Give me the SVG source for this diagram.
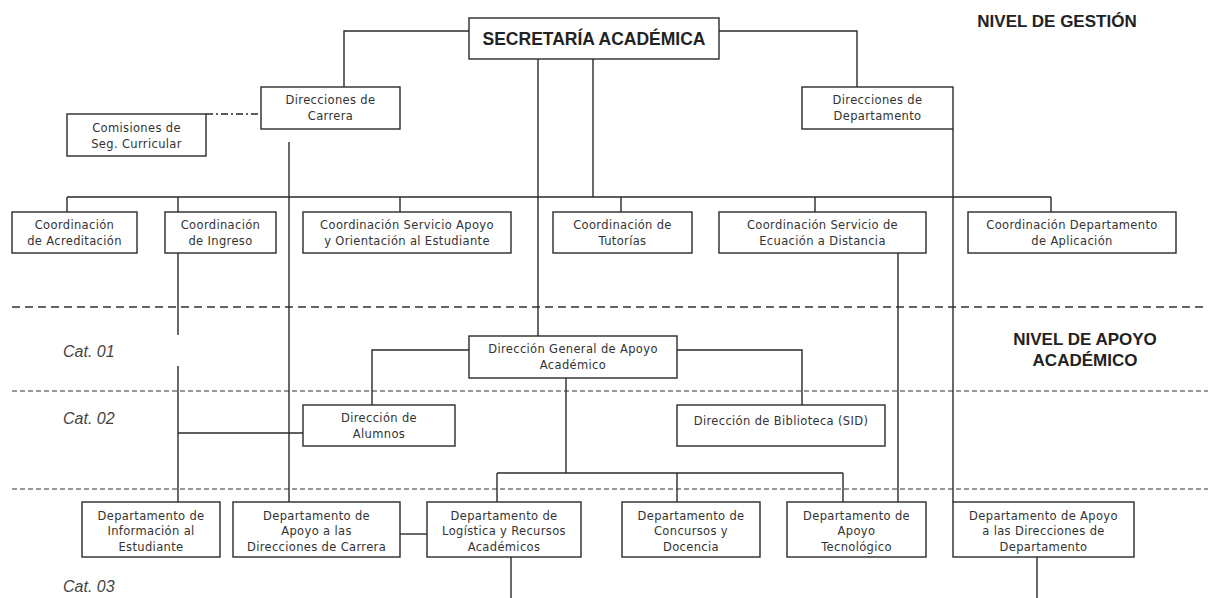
<svg xmlns="http://www.w3.org/2000/svg" width="1208" height="598" viewBox="0 0 1208 598">
<style>
.box{fill:#fff;stroke:#2a2a2a;stroke-width:1.4}
.t{font-family:"DejaVu Sans",sans-serif;font-size:11.5px;letter-spacing:0.35px;fill:#333;text-anchor:middle}
.ln{fill:none;stroke:#2a2a2a;stroke-width:1.4}
.dash1{fill:none;stroke:#333;stroke-width:1.3;stroke-dasharray:8 5}
.dash2{fill:none;stroke:#333;stroke-width:1.2;stroke-dasharray:5 3}
.cat{font-family:"Liberation Sans",sans-serif;font-style:italic;font-size:16px;fill:#444}
.lvl{font-family:"Liberation Sans",sans-serif;font-weight:bold;font-size:17px;fill:#222;text-anchor:middle}
</style>
<rect width="1208" height="598" fill="#fff"/>
<g id="separators">
<line class="dash1" x1="12" y1="307" x2="1208" y2="307"/>
<line class="dash2" x1="12" y1="391" x2="1208" y2="391"/>
<line class="dash2" x1="12" y1="489" x2="1208" y2="489"/>
</g>
<g id="labels">
<text class="lvl" x="1057" y="27">NIVEL DE GESTIÓN</text>
<text class="lvl" x="1085" y="345">NIVEL DE APOYO</text>
<text class="lvl" x="1085" y="366">ACADÉMICO</text>
<text class="cat" x="63" y="357">Cat. 01</text>
<text class="cat" x="63" y="424">Cat. 02</text>
<text class="cat" x="63" y="592">Cat. 03</text>
</g>
<g id="connectors">
<polyline class="ln" points="344,87 344,31 469,31"/>
<polyline class="ln" points="719,31 857,31 857,87"/>
<line class="ln" x1="206" y1="114" x2="261" y2="114" stroke-dasharray="7 3 2 3"/>
<line class="ln" x1="538" y1="59" x2="538" y2="336"/>
<line class="ln" x1="593" y1="59" x2="593" y2="197"/>
<line class="ln" x1="67" y1="197" x2="1051" y2="197"/>
<line class="ln" x1="67" y1="197" x2="67" y2="212"/>
<line class="ln" x1="178" y1="197" x2="178" y2="212"/>
<line class="ln" x1="400" y1="197" x2="400" y2="212"/>
<line class="ln" x1="621" y1="197" x2="621" y2="212"/>
<line class="ln" x1="815" y1="197" x2="815" y2="212"/>
<line class="ln" x1="1051" y1="197" x2="1051" y2="212"/>
<line class="ln" x1="289" y1="142" x2="289" y2="521"/>
<line class="ln" x1="178" y1="253" x2="178" y2="335"/>
<line class="ln" x1="178" y1="366" x2="178" y2="502"/>
<line class="ln" x1="178" y1="433" x2="303" y2="433"/>
<line class="ln" x1="953" y1="129" x2="953" y2="502"/>
<line class="ln" x1="898" y1="253" x2="898" y2="502"/>
<polyline class="ln" points="469,350 372,350 372,405"/>
<polyline class="ln" points="677,350 802,350 802,405"/>
<line class="ln" x1="566" y1="378" x2="566" y2="473"/>
<line class="ln" x1="497" y1="473" x2="843" y2="473"/>
<line class="ln" x1="497" y1="473" x2="497" y2="502"/>
<line class="ln" x1="677" y1="473" x2="677" y2="502"/>
<line class="ln" x1="843" y1="473" x2="843" y2="502"/>
<line class="ln" x1="400" y1="534" x2="427" y2="534"/>
<line class="ln" x1="511" y1="557" x2="511" y2="598"/>
<line class="ln" x1="1037" y1="557" x2="1037" y2="598"/>
</g>
<g id="secretaria">
<rect class="box" x="469" y="18" width="250" height="41"/>
<text x="594" y="45" font-family="Liberation Sans, sans-serif" font-weight="bold" font-size="18" fill="#222" text-anchor="middle" textLength="223" lengthAdjust="spacingAndGlyphs">SECRETARÍA ACADÉMICA</text>
</g>
<g id="dir-carrera">
<rect class="box" x="261" y="87" width="139" height="42"/>
<text class="t" x="330.5" y="104">Direcciones de</text>
<text class="t" x="330.5" y="120">Carrera</text>
</g>
<g id="dir-depto">
<rect class="box" x="802" y="87" width="151" height="42"/>
<text class="t" x="877.5" y="104">Direcciones de</text>
<text class="t" x="877.5" y="120">Departamento</text>
</g>
<g id="comisiones">
<rect class="box" x="67" y="114" width="139" height="42"/>
<text class="t" x="136.5" y="132">Comisiones de</text>
<text class="t" x="136.5" y="148">Seg. Curricular</text>
</g>
<g id="coord-acred">
<rect class="box" x="12" y="212" width="125" height="41"/>
<text class="t" x="74.5" y="229">Coordinación</text>
<text class="t" x="74.5" y="245">de Acreditación</text>
</g>
<g id="coord-ingreso">
<rect class="box" x="165" y="212" width="111" height="41"/>
<text class="t" x="220.5" y="229">Coordinación</text>
<text class="t" x="220.5" y="245">de Ingreso</text>
</g>
<g id="coord-apoyo">
<rect class="box" x="303" y="212" width="208" height="41"/>
<text class="t" x="407" y="229">Coordinación Servicio Apoyo</text>
<text class="t" x="407" y="245">y Orientación al Estudiante</text>
</g>
<g id="coord-tutorias">
<rect class="box" x="553" y="212" width="139" height="41"/>
<text class="t" x="622.5" y="229">Coordinación de</text>
<text class="t" x="622.5" y="245">Tutorías</text>
</g>
<g id="coord-distancia">
<rect class="box" x="719" y="212" width="207" height="41"/>
<text class="t" x="822.5" y="229">Coordinación Servicio de</text>
<text class="t" x="822.5" y="245">Ecuación a Distancia</text>
</g>
<g id="coord-aplicacion">
<rect class="box" x="968" y="212" width="208" height="41"/>
<text class="t" x="1072" y="229">Coordinación Departamento</text>
<text class="t" x="1072" y="245">de Aplicación</text>
</g>
<g id="dir-general">
<rect class="box" x="469" y="336" width="208" height="42"/>
<text class="t" x="573" y="353">Dirección General de Apoyo</text>
<text class="t" x="573" y="369">Académico</text>
</g>
<g id="dir-alumnos">
<rect class="box" x="303" y="405" width="152" height="41"/>
<text class="t" x="379" y="422">Dirección de</text>
<text class="t" x="379" y="438">Alumnos</text>
</g>
<g id="dir-biblioteca">
<rect class="box" x="677" y="405" width="208" height="41"/>
<text class="t" x="781" y="425">Dirección de Biblioteca (SID)</text>
</g>
<g id="depto-informacion">
<rect class="box" x="82" y="502" width="138" height="55"/>
<text class="t" x="151" y="520">Departamento de</text>
<text class="t" x="151" y="535">Información al</text>
<text class="t" x="151" y="551">Estudiante</text>
</g>
<g id="depto-apoyo-carrera">
<rect class="box" x="233" y="502" width="167" height="55"/>
<text class="t" x="316.5" y="520">Departamento de</text>
<text class="t" x="316.5" y="535">Apoyo a las</text>
<text class="t" x="316.5" y="551">Direcciones de Carrera</text>
</g>
<g id="depto-logistica">
<rect class="box" x="427" y="502" width="154" height="55"/>
<text class="t" x="504" y="520">Departamento de</text>
<text class="t" x="504" y="535">Logística y Recursos</text>
<text class="t" x="504" y="551">Académicos</text>
</g>
<g id="depto-concursos">
<rect class="box" x="622" y="502" width="138" height="55"/>
<text class="t" x="691" y="520">Departamento de</text>
<text class="t" x="691" y="535">Concursos y</text>
<text class="t" x="691" y="551">Docencia</text>
</g>
<g id="depto-tecnologico">
<rect class="box" x="787" y="502" width="139" height="55"/>
<text class="t" x="856.5" y="520">Departamento de</text>
<text class="t" x="856.5" y="535">Apoyo</text>
<text class="t" x="856.5" y="551">Tecnológico</text>
</g>
<g id="depto-apoyo-depto">
<rect class="box" x="953" y="502" width="181" height="55"/>
<text class="t" x="1043.5" y="520">Departamento de Apoyo</text>
<text class="t" x="1043.5" y="535">a las Direcciones de</text>
<text class="t" x="1043.5" y="551">Departamento</text>
</g>
</svg>
